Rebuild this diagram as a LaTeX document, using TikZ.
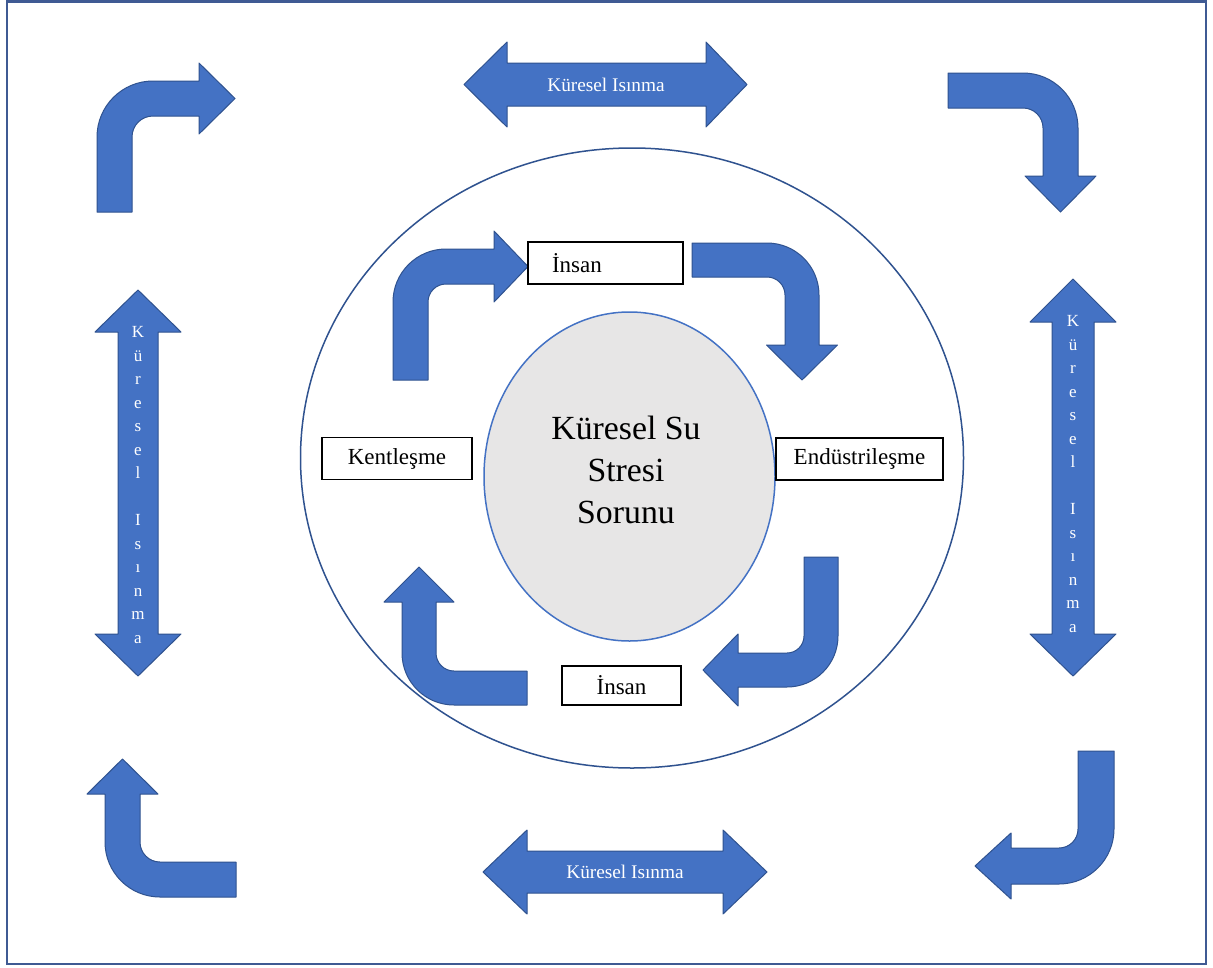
\documentclass[tikz,border=0pt]{standalone}
\usepackage{fontspec}
\setmainfont{Liberation Serif}
\definecolor{afill}{HTML}{4472C4}
\definecolor{aline}{HTML}{2F528F}
\definecolor{egray}{HTML}{E7E6E6}
\definecolor{frame}{HTML}{3F5A93}
\tikzset{
  arrowshape/.style={fill=afill, draw=aline, line width=1pt, line join=round},
  box/.style={draw=black, line width=1.3pt, fill=white, font=\fontsize{23}{26}\selectfont, inner sep=0pt, minimum height=42pt},
  wtext/.style={text=white, font=\fontsize{19.3}{23}\selectfont, inner sep=0pt},
  vtext/.style={text=white, font=\fontsize{17}{23.5}\selectfont, align=center, inner sep=0pt},
}
\newcommand{\bentarr}[7]{%
 \begin{scope}[#1]
 \pgfmathsetmacro\bH{#2}\pgfmathsetmacro\bL{#3}\pgfmathsetmacro\bw{#4}%
 \pgfmathsetmacro\bR{#5}\pgfmathsetmacro\bhl{#6}\pgfmathsetmacro\bhh{#7}%
 \pgfmathsetmacro\br{\bR-\bw}%
 \draw[arrowshape] (0,0) -- (0,{-(\bH-\bR)})
   .. controls (0,{-(\bH-\bR)-0.5523*\bR}) and ({\bR-0.5523*\bR},{-\bH}) .. (\bR,{-\bH})
   -- ({\bL-\bhl},{-\bH}) -- ({\bL-\bhl},{-(\bH-\bw/2+\bhh)}) -- (\bL,{-(\bH-\bw/2)})
   -- ({\bL-\bhl},{-(\bH-\bw/2-\bhh)}) -- ({\bL-\bhl},{-(\bH-\bw)}) -- (\bR,{-(\bH-\bw)})
   .. controls ({\bR-0.5523*\br},{-(\bH-\bw)}) and (\bw,{-(\bH-\bR)-0.5523*\br}) .. (\bw,{-(\bH-\bR)})
   -- (\bw,0) -- cycle;
 \end{scope}}
\begin{document}
\begin{tikzpicture}[x=1pt,y=-1pt]
\useasboundingbox (0,0) rectangle (1213,967);
\fill[white] (0,0) rectangle (1213,967);
% frame
\draw[frame, line width=2.5pt] (7,1.5) rectangle (1206,964);

% outer ellipse
\draw[aline, line width=1.5pt] (632,458) ellipse [x radius=331.5, y radius=310];
% inner ellipse
\draw[afill, fill=egray, line width=1.5pt] (629.5,476.5) ellipse [x radius=145.5, y radius=164.5];
\node[font=\fontsize{33.8}{42}\selectfont, align=center, inner sep=0pt] (center) at (626,470) {Küresel Su\\Stresi\\Sorunu};

% outer bent arrows
\bentarr{shift={(97,212)}}{131}{138}{35}{56}{36}{35.5}
\bentarr{shift={(948,73)},rotate=-90}{130}{139}{35}{55}{36}{35.5}
\bentarr{shift={(1114,751)},rotate=180}{133}{139}{36}{55}{36}{33}
\bentarr{shift={(236,897)},rotate=90}{131}{138}{35}{55}{35}{35.5}

% inner bent arrows
\bentarr{shift={(393,380)}}{131}{135}{35}{53}{34}{35.5}
\bentarr{shift={(692,243)},rotate=-90}{127}{137}{34}{52}{35}{35.5}
\bentarr{shift={(838,557)},rotate=180}{130}{135}{34}{51}{35}{36}
\bentarr{shift={(527,705)},rotate=90}{125}{138}{34}{52}{35}{35}

% double arrows
\draw[arrowshape] (464,84.5) -- (507,42) -- (507,63) -- (706,63) -- (706,42) -- (747,84.5) -- (706,127) -- (706,106) -- (507,106) -- (507,127) -- cycle;
\node[wtext] (gwtop) at (606,84.5) {Küresel Isınma};
\draw[arrowshape] (483,872) -- (527,830) -- (527,851) -- (723,851) -- (723,830) -- (767,872) -- (723,914) -- (723,893) -- (527,893) -- (527,914) -- cycle;
\node[wtext] (gwbot) at (625,872) {Küresel Isınma};
\draw[arrowshape] (138,290) -- (181,332) -- (158,332) -- (158,634) -- (181,634) -- (138,676) -- (95,634) -- (118,634) -- (118,332) -- (95,332) -- cycle;
\node[vtext] (gwleft) at (138,485) {K\\ü\\r\\e\\s\\e\\l\\\mbox{}\\I\\s\\ı\\n\\m\\a};
\draw[arrowshape] (1073,279) -- (1116,322) -- (1094,322) -- (1094,634) -- (1116,634) -- (1073,676) -- (1030,634) -- (1052,634) -- (1052,322) -- (1030,322) -- cycle;
\node[vtext] (gwright) at (1073,474) {K\\ü\\r\\e\\s\\e\\l\\\mbox{}\\I\\s\\ı\\n\\m\\a};

% boxes
\node[box, minimum width=155pt, text width=107pt, align=left, inner xsep=24pt] (insantop) at (605.5,263) {İnsan};
\node[box, minimum width=150pt] (kent) at (397,458.5) {Kentleşme};
\node[box, minimum width=167pt] (endus) at (859.5,459) {Endüstrileşme};
\node[box, minimum width=119pt, minimum height=39pt] (insanbot) at (621.5,685.5) {İnsan};
\end{tikzpicture}
\end{document}
